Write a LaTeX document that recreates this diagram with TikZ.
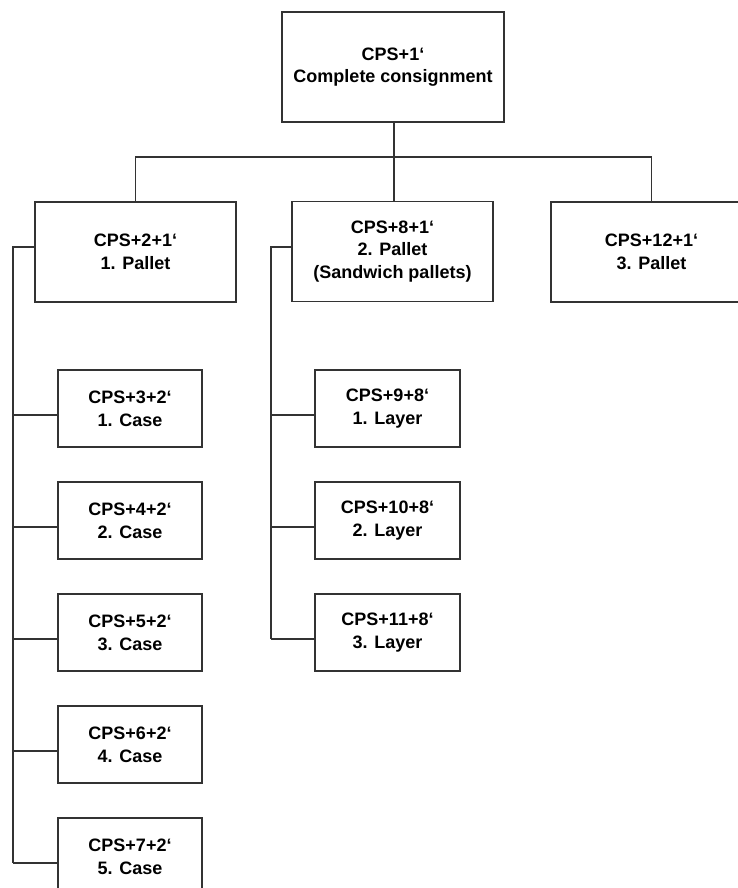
\documentclass[tikz,border=0pt]{standalone}
\usepackage{fontspec}
\setmainfont{Liberation Sans}

\begin{document}
\begin{tikzpicture}[x=0.75pt,y=-0.75pt,
  box/.style={draw=black!80,line width=1.1pt,align=center,inner sep=0pt,
    font=\bfseries\fontsize{13.5}{17}\selectfont},
  topbox/.style={box,minimum width=166.5pt,minimum height=82.5pt},
  palletbox/.style={box,minimum width=150.75pt,minimum height=75pt},
  casebox/.style={box,minimum width=108pt,minimum height=57.75pt},
  layerbox/.style={box,minimum width=108.75pt,minimum height=57.75pt},
  link/.style={draw=black!80,line width=1pt}]
\useasboundingbox (0,0) rectangle (738,888);
\clip (0,0) rectangle (738,888);
\node[topbox] (cons) at (393,67) {CPS+1‘\\Complete consignment};
\node[palletbox] (p1) at (135.5,252) {CPS+2+1‘\\1. Pallet};
\node[palletbox] (p2) at (392.5,251.5) {CPS+8+1‘\\2. Pallet\\(Sandwich pallets)};
\node[palletbox] (p3) at (651.5,252) {CPS+12+1‘\\3. Pallet};
\foreach \i/\n in {1/3,2/4,3/5,4/6,5/7}
  \node[casebox] (c\i) at (130,{296.5+112*\i}) {CPS+\n+2‘\\\i. Case};
\foreach \i/\n in {1/9,2/10,3/11}
  \node[layerbox] (l\i) at (387.5,{296.5+112*\i}) {CPS+\n+8‘\\\i. Layer};
\coordinate (bus) at (394,157);
\coordinate (trunkA) at (13,247);
\coordinate (trunkB) at (271,247);
\draw[link] (cons.south -| bus) -- (p2.north -| bus);
\draw[link] (p1.north) |- (bus) -| (p3.north);
\draw[link] (p1.west |- trunkA) -- (trunkA) -- ([yshift=-4.875pt]c5.west -| trunkA);
\foreach \i in {1,...,5}
  \draw[link] ([yshift=-4.875pt]c\i.west) -- ([yshift=-4.875pt]c\i.west -| trunkA);
\draw[link] (p2.west |- trunkB) -- (trunkB) -- ([yshift=-4.875pt]l3.west -| trunkB);
\foreach \i in {1,2,3}
  \draw[link] ([yshift=-4.875pt]l\i.west) -- ([yshift=-4.875pt]l\i.west -| trunkB);
\end{tikzpicture}
\end{document}
